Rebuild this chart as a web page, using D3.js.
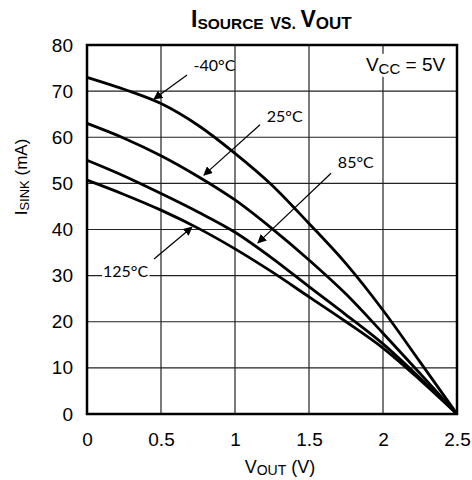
<!DOCTYPE html>
<html><head><meta charset="utf-8">
<script src="https://cdn.jsdelivr.net/npm/d3@7"></script>
<style>body{margin:0;background:#fff}svg{display:block}</style>
</head><body>
<svg id="c" width="472" height="480"></svg>
<script>
// ---- data ----
const vout = [0, 0.25, 0.5, 0.75, 1.0, 1.25, 1.5, 1.75, 2.0, 2.25, 2.5];
const iM40 = [73.0, 70.4, 67.3, 62.6, 56.5, 49.6, 41.3, 32.6, 22.5, 11.3, 0];
const i25  = [63.0, 59.8, 56.0, 51.5, 46.4, 40.2, 33.4, 26.0, 17.5, 8.8, 0];
const i85  = [55.0, 51.6, 47.8, 43.8, 39.4, 33.8, 27.6, 21.5, 15.2, 7.8, 0];
const i125 = [50.7, 47.6, 44.2, 40.3, 35.8, 30.8, 25.4, 20.0, 14.3, 7.4, 0];
const seriesNames = ["-40°C", "25°C", "85°C", "125°C"];
const xTicks = [0, 0.5, 1, 1.5, 2, 2.5];
const xTickLabels = ["0", "0.5", "1", "1.5", "2", "2.5"];
const yTicks = [0, 10, 20, 30, 40, 50, 60, 70, 80];
// annotation anchors in data units: label pos, arrow start, arrow tip
const annLabel = [[0.72, 74.4], [1.215, 63.2], [1.695, 53.4], [0.108, 29.6]];
const annFrom  = [[0.676, 73.5], [1.169, 62.7], [1.649, 52.2], [0.453, 33.6]];
const annTo    = [[0.453, 68.3], [0.79, 51.8], [1.155, 37.1], [0.709, 40.5]];

const svg = d3.select("#c");
const L = 87, R = 457, T = 45, B = 414;
const x = d3.scaleLinear().domain([0, 2.5]).range([L, R]);
const y = d3.scaleLinear().domain([0, 80]).range([B, T]);

const gridG = svg.append("g");
const bgG = svg.append("g");
const curveG = svg.append("g");
const annG = svg.append("g");
const frameG = svg.append("g");
const axisG = svg.append("g");

// grid
gridG.selectAll(".vg").data(xTicks.slice(1, -1)).enter().append("line")
  .attr("x1", d => x(d)).attr("x2", d => x(d)).attr("y1", T).attr("y2", B)
  .attr("stroke", "#222").attr("stroke-width", 1.2);
gridG.selectAll(".hg").data(yTicks.slice(1, -1)).enter().append("line")
  .attr("y1", d => y(d)).attr("y2", d => y(d)).attr("x1", L).attr("x2", R)
  .attr("stroke", "#222").attr("stroke-width", 1.2);

// axes labels via d3 axes
const xAxis = d3.axisBottom(x).tickValues(xTicks).tickFormat((d, i) => xTickLabels[i]).tickSize(0).tickPadding(19);
const yAxis = d3.axisLeft(y).tickValues(yTicks).tickSize(0).tickPadding(14);
const gx = axisG.append("g").attr("transform", `translate(0,${B})`).call(xAxis);
const gy = axisG.append("g").attr("transform", `translate(${L},0)`).call(yAxis);
[gx, gy].forEach(a => {
  a.select(".domain").remove();
  a.selectAll("text").attr("font-family", "Liberation Sans, Arial, sans-serif").attr("font-size", 19).attr("fill", "#000");
});

// arrow marker
const defs = svg.append("defs");
defs.append("marker").attr("id", "ah").attr("viewBox", "0 0 10 10").attr("refX", 9).attr("refY", 5)
  .attr("markerWidth", 9).attr("markerHeight", 9).attr("markerUnits", "userSpaceOnUse").attr("orient", "auto")
  .append("path").attr("d", "M0,0 L10,5 L0,10 Z").attr("fill", "#000");

// curves
const line = d3.line().x(d => x(d[0])).y(d => y(d[1])).curve(d3.curveMonotoneX);
const allSeries = [iM40, i25, i85, i125];
curveG.selectAll("path").data(allSeries).enter().append("path")
  .attr("d", s => line(vout.map((v, i) => [v, s[i]])))
  .attr("fill", "none").attr("stroke", "#000").attr("stroke-width", 2.8).attr("stroke-linejoin", "round");

// annotations
seriesNames.forEach((n, i) => {
  annG.append("line")
    .attr("x1", x(annFrom[i][0])).attr("y1", y(annFrom[i][1]))
    .attr("x2", x(annTo[i][0])).attr("y2", y(annTo[i][1]))
    .attr("stroke", "#000").attr("stroke-width", 1.2).attr("marker-end", "url(#ah)");
  const t = annG.append("text").attr("x", x(annLabel[i][0])).attr("y", y(annLabel[i][1]))
    .attr("font-family", "Lato, Carlito, sans-serif").attr("font-size", 16).attr("fill", "#000").text(n);
  if (i === 3) {
    const bb = t.node().getBBox();
    bgG.append("rect").attr("x", bb.x - 1).attr("y", bb.y + 2).attr("width", bb.width + 2).attr("height", bb.height - 4).attr("fill", "#fff");
  }
});

// VCC label
const vcc = annG.append("text").attr("x", x(2.42)).attr("y", y(74.4)).attr("text-anchor", "end")
  .attr("font-family", "Liberation Sans, Arial, sans-serif").attr("font-size", 19).attr("fill", "#000");
vcc.append("tspan").text("V");
vcc.append("tspan").attr("font-size", 15).attr("dy", 3).text("CC");
vcc.append("tspan").attr("dy", -3).text(" = 5V");
const vb = vcc.node().getBBox();
bgG.append("rect").attr("x", vb.x - 2).attr("y", vb.y).attr("width", vb.width + 4).attr("height", vb.height).attr("fill", "#fff");

// frame
frameG.append("rect").attr("x", L).attr("y", T).attr("width", R - L).attr("height", B - T)
  .attr("fill", "none").attr("stroke", "#000").attr("stroke-width", 2.5);

// title
const title = axisG.append("text").attr("x", 191).attr("y", 27)
  .attr("font-family", "Liberation Sans, Arial, sans-serif").attr("font-weight", "bold").attr("font-size", 23).attr("fill", "#000");
title.append("tspan").text("I");
title.append("tspan").attr("font-size", 15.5).attr("dy", 2).text("SOURCE");
title.append("tspan").attr("font-size", 16).attr("dx", 2).text(" VS. ");
title.append("tspan").attr("dy", -2).text("V");
title.append("tspan").attr("font-size", 17).attr("dy", 2).text("OUT");

// x title
const xt = axisG.append("text").attr("x", 280).attr("y", 473).attr("text-anchor", "middle")
  .attr("font-family", "Liberation Sans, Arial, sans-serif").attr("font-size", 18).attr("fill", "#000");
xt.append("tspan").text("V");
xt.append("tspan").attr("font-size", 14).attr("dy", 2).text("OUT");
xt.append("tspan").attr("dy", -2).text(" (V)");

// y title
const yt = axisG.append("text").attr("transform", "translate(27,177) rotate(-90)").attr("text-anchor", "middle")
  .attr("font-family", "Liberation Sans, Arial, sans-serif").attr("font-size", 17).attr("fill", "#000");
yt.append("tspan").text("I");
yt.append("tspan").attr("font-size", 13).attr("dy", 2).text("SINK");
yt.append("tspan").attr("dy", -2).text(" (mA)");
</script>
</body></html>
